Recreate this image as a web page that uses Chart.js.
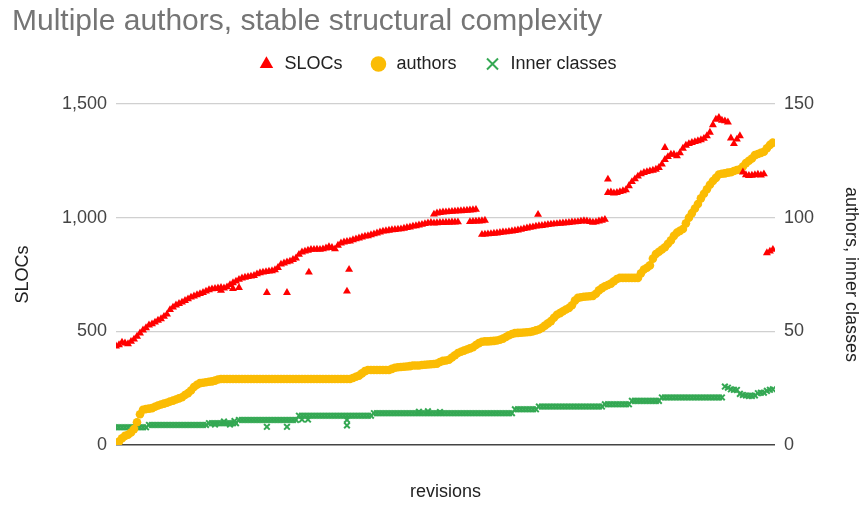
<!DOCTYPE html>
<html>
<head>
<meta charset="utf-8">
<title>Multiple authors, stable structural complexity</title>
<script src="https://cdn.jsdelivr.net/npm/chart.js@4.4.0/dist/chart.umd.min.js"></script>
<style>
  html, body { margin: 0; padding: 0; background: #fff; }
</style>
</head>
<body>
<canvas id="chart" width="862" height="505"></canvas>
<script>
// one value per revision (x = revision index)
const slocs = [
  435, 440, 452, 448, 445, 455, 465, 478, 492, 505,
  515, 527, 532, 540, 548, 555, 565, 575, 595, 606,
  615, 622, 628, 635, 642, 650, 655, 660, 665, 670,
  676, 682, 686, 688, 690, 692, 690, 695, 705, 713,
  720, 728, 734, 737, 740, 742, 745, 752, 757, 760,
  762, 764, 766, 770, 780, 795, 800, 805, 808, 815,
  822, 838, 848, 852, 856, 860, 860, 861, 860, 862,
  866, 872, 868, 862, 878, 888, 892, 895, 897, 902,
  906, 910, 914, 918, 920, 924, 928, 932, 936, 940,
  942, 944, 946, 947, 949, 950, 953, 956, 958, 962,
  964, 967, 970, 973, 976, 978, 1015, 1020, 1022, 1024,
  1025, 1026, 1027, 1028, 1029, 1030, 1031, 1032, 1033, 1034,
  1036, 985, 986, 988, 928, 929, 931, 932, 934, 936,
  937, 939, 941, 943, 945, 948, 951, 954, 957, 959,
  962, 964, 965, 967, 969, 971, 972, 973, 975, 976,
  977, 978, 980, 981, 982, 984, 986, 985, 982, 979,
  981, 985, 988, 992, 1110, 1112, 1108, 1110, 1114, 1118,
  1122, 1140, 1158, 1170, 1182, 1192, 1198, 1202, 1205, 1208,
  1212, 1220, 1235, 1255, 1268, 1278, 1278, 1272, 1285, 1305,
  1318, 1325, 1330, 1334, 1338, 1342, 1348, 1360, 1375, 1408,
  1432, 1440, 1428, 1425, 1420, 1350, 1325, 1345, 1360, 1200,
  1188, 1185, 1186, 1188, 1190, 1187, 1192, 845, 852, 860
];

const authors = [
  0.5, 1.5, 3, 4, 4.5, 5.5, 7, 10, 13.5, 15.5,
  15.8, 16, 16.2, 16.8, 17.4, 17.8, 18.2, 18.6, 19.1, 19.5,
  20, 20.5, 21, 22, 22.8, 24, 25.5, 26.5, 27.2, 27.4,
  27.6, 27.8, 28, 28.3, 28.8, 29, 29, 29, 29, 29,
  29, 29, 29, 29, 29, 29, 29, 29, 29, 29,
  29, 29, 29, 29, 29, 29, 29, 29, 29, 29,
  29, 29, 29, 29, 29, 29, 29, 29, 29, 29,
  29, 29, 29, 29, 29, 29, 29, 29, 29, 29.5,
  30, 30.5, 31.5, 32.5, 33, 33, 33, 33, 33, 33,
  33, 33, 33.5, 34, 34.2, 34.3, 34.4, 34.5, 34.7, 35,
  35, 35, 35.2, 35.3, 35.4, 35.5, 35.6, 35.8, 36.5, 37,
  37.2, 37.5, 38.5, 39.5, 40.5, 41, 41.5, 42, 42.5, 43,
  44, 44.8, 45.4, 45.6, 45.6, 45.7, 45.8, 46, 46.3, 46.8,
  47.5, 48.3, 48.8, 49.2, 49.3, 49.4, 49.5, 49.6, 49.7, 50,
  50.4, 50.8, 51.5, 52.5, 53.5, 54.5, 56, 57.3, 58, 58.8,
  59.6, 60.3, 61.5, 63.5, 64.7, 65, 65.2, 65.3, 65.4, 65.6,
  66.5, 68, 69, 69.8, 70.4, 71, 72, 73, 73.5, 73.5,
  73.5, 73.5, 73.5, 73.5, 73.5, 75.5, 77.2, 78, 79, 82,
  84, 85, 86, 87, 88.5, 90, 92, 93.4, 94.2, 95,
  97.5, 100, 102, 104, 106, 108.5, 110.5, 112.5, 114.5, 116.1,
  117.5, 119, 119.3, 119.5, 119.8, 120, 120.5, 121, 121.3, 122.5,
  124, 125, 126, 127.5, 128, 128.5, 129, 130.5, 132, 133
];

const innerClasses = [
  7.8, 7.8, 7.8, 7.8, 7.8, 7.8, 7.8, 7.8, 7.8, 7.8,
  7.8, 8.8, 8.8, 8.8, 8.8, 8.8, 8.8, 8.8, 8.8, 8.8,
  8.8, 8.8, 8.8, 8.8, 8.8, 8.8, 8.8, 8.8, 8.8, 8.8,
  8.8, 9.6, 9.6, 9.6, 9.6, 9.6, 9.6, 9.6, 9.6, 9.6,
  9.6, 11, 11, 11, 11, 11, 11, 11, 11, 11,
  11, 11, 11, 11, 11, 11, 11, 11, 11, 11,
  11, 12.9, 12.9, 12.9, 12.9, 12.9, 12.9, 12.9, 12.9, 12.9,
  12.9, 12.9, 12.9, 12.9, 12.9, 12.9, 12.9, 12.9, 12.9, 12.9,
  12.9, 12.9, 12.9, 12.9, 12.9, 12.9, 14, 14, 14, 14,
  14, 14, 14, 14, 14, 14, 14, 14, 14, 14,
  14, 14, 14, 14, 14, 14, 14, 14, 14, 14,
  14, 14, 14, 14, 14, 14, 14, 14, 14, 14,
  14, 14, 14, 14, 14, 14, 14, 14, 14, 14,
  14, 14, 14, 15.7, 15.7, 15.7, 15.7, 15.7, 15.7, 15.7,
  15.7, 16.9, 16.9, 16.9, 16.9, 16.9, 16.9, 16.9, 16.9, 16.9,
  16.9, 16.9, 16.9, 16.9, 16.9, 16.9, 16.9, 16.9, 16.9, 16.9,
  16.9, 16.9, 16.9, 17.9, 17.9, 17.9, 17.9, 17.9, 17.9, 17.9,
  17.9, 17.9, 19.4, 19.4, 19.4, 19.4, 19.4, 19.4, 19.4, 19.4,
  19.4, 19.4, 20.9, 20.9, 20.9, 20.9, 20.9, 20.9, 20.9, 20.9,
  20.9, 20.9, 20.9, 20.9, 20.9, 20.9, 20.9, 20.9, 20.9, 20.9,
  20.9, 20.9, 20.9, 25.7, 25.2, 24.5, 24.3, 24.2, 22.5, 22,
  21.8, 21.6, 21.6, 21.8, 22.8, 23, 23, 23.8, 24.3, 24.5
];

// stray measurements off the main trace
const slocExtraRev = [35, 39, 41, 50.3, 57, 64.3, 77, 77.7, 106, 107, 108, 109, 110, 111, 112, 113, 114, 118, 119, 120, 122, 123, 140.7, 164, 183];
const slocExtraVal = [680, 688, 692, 670, 670, 760, 676, 772, 976, 977, 978, 978, 979, 979, 980, 980, 981, 982, 983, 984, 926, 927, 1014, 1169, 1308];
const innerExtraRev = [33, 36, 38, 39.5, 50.3, 57, 62, 64, 77, 77, 101, 104, 108];
const innerExtraVal = [9.0, 10.3, 9.0, 10.5, 8, 8, 11.2, 11.2, 8.6, 11, 14.6, 14.8, 14.5];

const leftTicks = [0, 500, 1000, 1500];
const rightTicks = [0, 50, 100, 150];

const toPoints = (vals) => vals.map((v, i) => ({ x: i, y: v }));
const pairs = (revs, vals) => revs.map((r, i) => ({ x: r, y: vals[i] }));

Chart.defaults.font.family = '"Liberation Sans", Arial, sans-serif';
Chart.defaults.font.size = 18;
Chart.defaults.color = '#444';

// push the plot down below the legend
const legendSpacing = {
  id: 'legendSpacing',
  beforeInit(chart) {
    if (!chart.legend) return;
    const fit = chart.legend.fit;
    chart.legend.fit = function () {
      fit.bind(chart.legend)();
      this.height += 21;
    };
  }
};

new Chart(document.getElementById('chart'), {
  type: 'scatter',
  data: {
    datasets: [
      {
        label: 'SLOCs',
        data: toPoints(slocs).concat(pairs(slocExtraRev, slocExtraVal)),
        yAxisID: 'y',
        pointStyle: 'triangle',
        pointRadius: 4.6,
        backgroundColor: '#ff0000',
        borderColor: '#ff0000',
        borderWidth: 0
      },
      {
        label: 'authors',
        data: toPoints(authors),
        yAxisID: 'y1',
        pointStyle: 'circle',
        pointRadius: 4.3,
        backgroundColor: '#fbbc04',
        borderColor: '#fbbc04',
        borderWidth: 0
      },
      {
        label: 'Inner classes',
        data: toPoints(innerClasses).concat(pairs(innerExtraRev, innerExtraVal)),
        yAxisID: 'y1',
        pointStyle: 'crossRot',
        pointRadius: 4,
        backgroundColor: '#34a853',
        borderColor: '#34a853',
        borderWidth: 2
      }
    ]
  },
  options: {
    responsive: false,
    animation: false,
    layout: { padding: { left: 12 } },
    plugins: {
      title: {
        display: true,
        text: 'Multiple authors, stable structural complexity',
        align: 'start',
        color: '#757575',
        font: { size: 30, weight: 'normal' },
        padding: { top: 4, bottom: -12 }
      },
      legend: {
        labels: {
          usePointStyle: true,
          boxWidth: 18,
          boxHeight: 11,
          padding: 27,
          color: '#222'
        }
      },
      tooltip: { enabled: false }
    },
    scales: {
      x: {
        type: 'linear',
        min: 0,
        max: 219.7,
        ticks: { display: false },
        grid: { display: false },
        border: { display: false },
        title: { display: true, text: 'revisions', color: '#222', padding: { top: 0, bottom: 2 } },
        afterFit(s) { s.height = 60; }
      },
      y: {
        position: 'left',
        min: 0,
        max: 1500,
        afterBuildTicks(s) { s.ticks = leftTicks.map(v => ({ value: v })); },
        ticks: { padding: 9 },
        grid: {
          drawTicks: false,
          color: c => c.tick.value === 0 ? '#444' : '#d0d0d0',
          lineWidth: c => c.tick.value === 0 ? 1.5 : 1.2
        },
        border: { display: false },
        title: { display: true, text: 'SLOCs', color: '#222', padding: 0 },
        afterFit(s) { s.width = 104; }
      },
      y1: {
        position: 'right',
        min: 0,
        max: 150,
        afterBuildTicks(s) { s.ticks = rightTicks.map(v => ({ value: v })); },
        ticks: { padding: 9 },
        grid: { display: false, drawTicks: false },
        border: { display: false },
        title: { display: true, text: 'authors, inner classes', color: '#222', padding: 0 },
        afterFit(s) { s.width = 87; }
      }
    }
  },
  plugins: [legendSpacing]
});
</script>
</body>
</html>
